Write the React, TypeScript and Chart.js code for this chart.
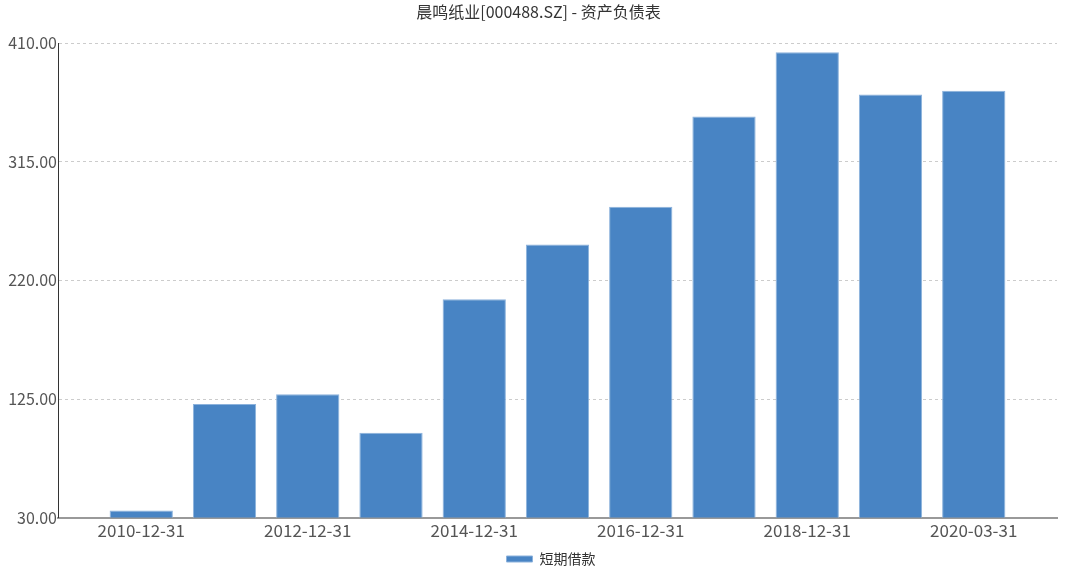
import React, { useEffect, useRef } from "react";
import { Chart, registerables } from "chart.js";

Chart.register(...registerables);

const categories = [
  "2010-12-31", "2011-12-31", "2012-12-31", "2013-12-31", "2014-12-31", "2015-12-31",
  "2016-12-31", "2017-12-31", "2018-12-31", "2019-12-31", "2020-03-31",
];
const shortLoans = [35.6, 120.9, 128.9, 98.0, 204.9, 248.7, 279.0, 351.3, 402.7, 368.9, 372.0];
const yTicks = [30, 125, 220, 315, 410];
const titleText = "晨鸣纸业[000488.SZ] - 资产负债表";
const seriesName = "短期借款";

const FONT = "'Noto Sans CJK SC', 'Noto Sans', sans-serif";

export default function App() {
  const ref = useRef<HTMLCanvasElement | null>(null);
  useEffect(() => {
    document.body.style.margin = "0";
    const labels = ["", ...categories, ""];
    const data = [null, ...shortLoans, null];
    const chart = new Chart(ref.current!, {
      type: "bar",
      data: {
        labels,
        datasets: [
          {
            label: seriesName,
            data,
            backgroundColor: "#4884c4",
            borderColor: "#8cb2dc",
            borderWidth: 1,
            barPercentage: 0.76,
            categoryPercentage: 1,
          },
        ],
      },
      options: {
        animation: false,
        responsive: false,
        maintainAspectRatio: false,
        layout: { padding: { left: 0, right: 23, top: 0, bottom: 0 } },
        plugins: {
          title: {
            display: true,
            text: titleText,
            color: "#333",
            font: { family: FONT, size: 16, weight: "normal" },
            padding: { top: 2, bottom: 22 },
          },
          legend: {
            position: "bottom",
            labels: {
              boxWidth: 26,
              boxHeight: 6,
              color: "#333",
              font: { family: FONT, size: 14 },
              padding: 5,
            },
          },
          tooltip: { enabled: false },
        },
        scales: {
          x: {
            offset: false,
            grid: { display: false, drawTicks: false },
            border: { display: true, color: "#999", width: 2 },
            ticks: {
              autoSkip: false,
              maxRotation: 0,
              color: "#555",
              font: { family: FONT, size: 17 },
              padding: 3,
              callback: (v: any, i: number) => (i % 2 === 1 ? labels[i] : ""),
            },
          },
          y: {
            min: 30,
            max: 410,
            afterFit: (s: any) => {
              s.width = 58;
            },
            afterBuildTicks: (s: any) => {
              s.ticks = yTicks.map((v) => ({ value: v }));
            },
            grid: {
              color: (ctx: any) => (ctx.tick && ctx.tick.value === 30 ? "rgba(0,0,0,0)" : "#ccc"),
              drawTicks: false,
            },
            border: { display: true, color: "#333", width: 1, dash: [3, 3] },
            ticks: {
              color: "#555",
              font: { family: FONT, size: 16 },
              padding: 1,
              callback: (v: any) => Number(v).toFixed(2),
            },
          },
        },
      },
      plugins: [
        {
          id: "shiftBlocks",
          afterLayout: (c: any) => {
            if (c.legend) {
              c.legend.left += 22.5;
              c.legend.right += 22.5;
              c.legend.top += 3;
              c.legend.bottom += 3;
            }
            if (c.titleBlock) {
              c.titleBlock.left += 10;
              c.titleBlock.right += 10;
            }
          },
        },
      ],
    });
    return () => chart.destroy();
  }, []);
  return (
    <div style={{ position: "absolute", left: 0, top: 0, width: 1080, height: 573 }}>
      <canvas ref={ref} width={1080} height={573} />
    </div>
  );
}
